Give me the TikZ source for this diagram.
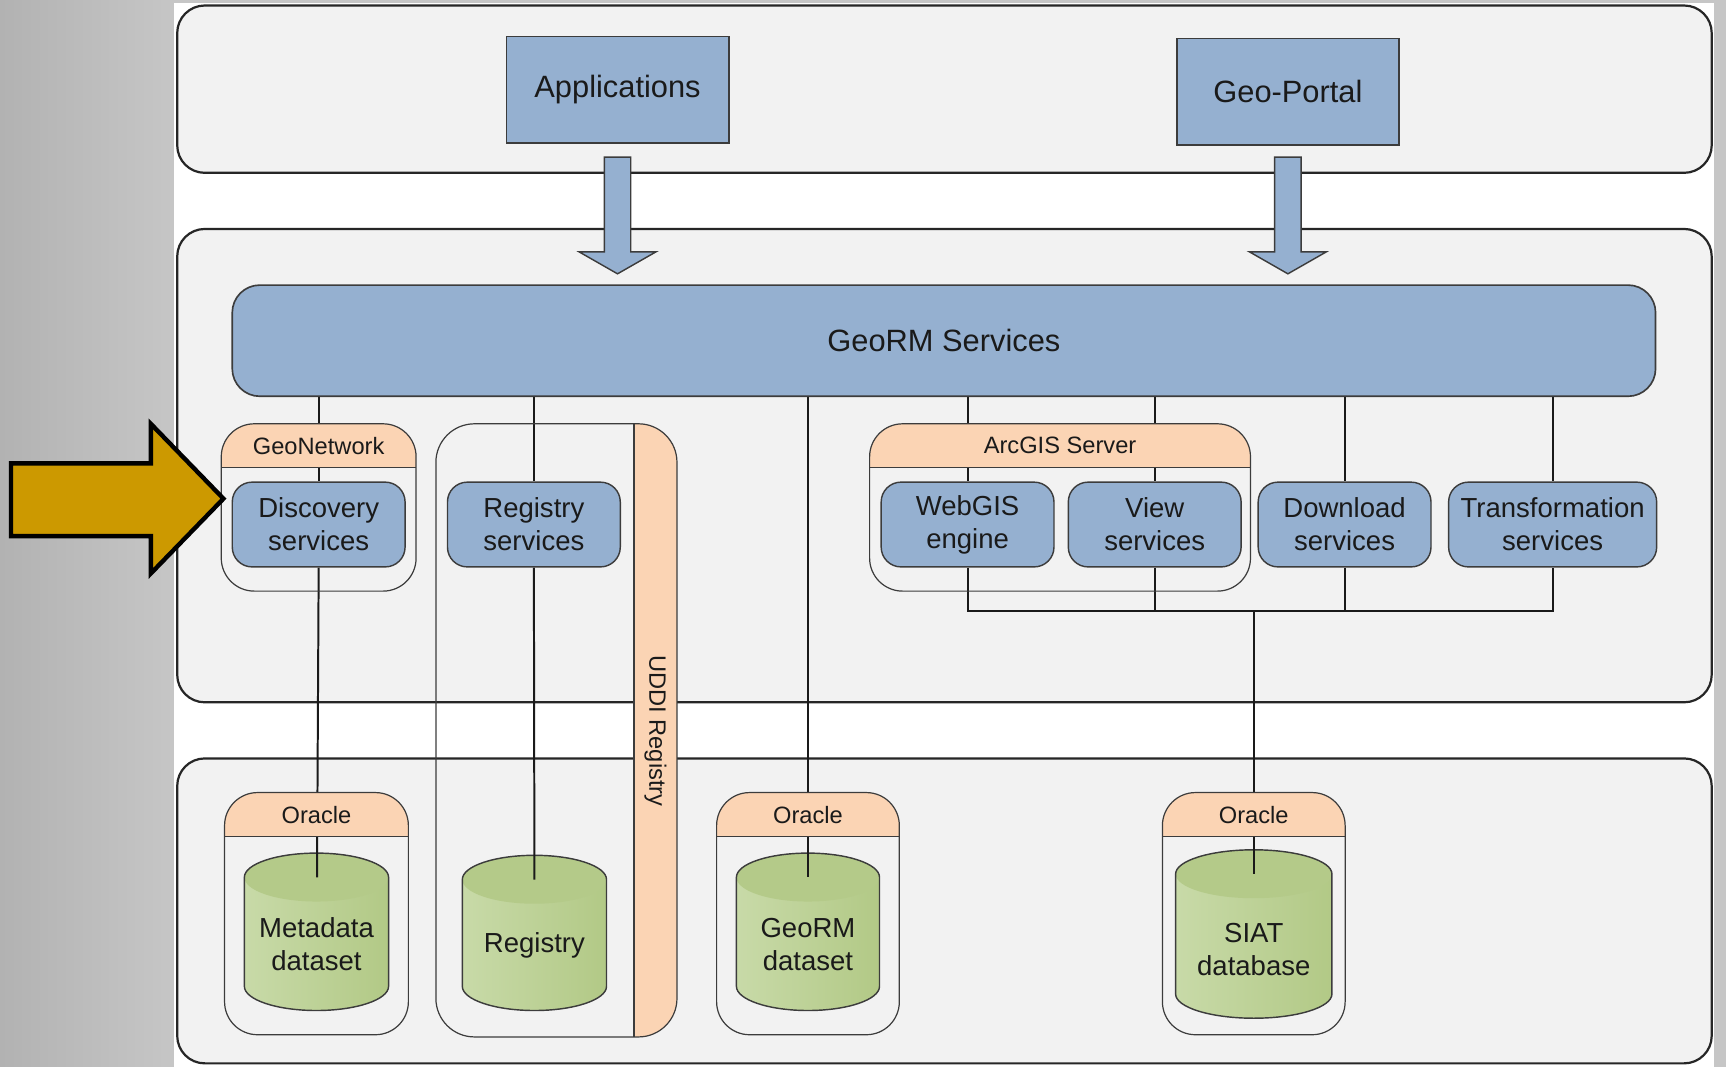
\documentclass[tikz,border=0pt]{standalone}
\usepackage{fontspec}
\setmainfont{Liberation Sans}
\usetikzlibrary{calc}
\definecolor{panelF}{HTML}{F2F2F2}
\definecolor{lineC}{HTML}{262626}
\definecolor{boxLine}{HTML}{3C3C3C}
\definecolor{blueF}{HTML}{95B0D0}
\definecolor{peach}{HTML}{FBD4B4}
\definecolor{cylL}{HTML}{C8DAA8}
\definecolor{cylR}{HTML}{B2C986}
\definecolor{cylTop}{HTML}{B4CA89}
\definecolor{gold}{HTML}{CC9900}
\definecolor{txt}{HTML}{1A1A1A}
\definecolor{grayL}{HTML}{B2B2B2}
\definecolor{grayR}{HTML}{C6C6C6}
\newcommand\fbig{\fontsize{28}{32}\selectfont}
\newcommand\fmed{\fontsize{25}{30}\selectfont}
\newcommand\fsml{\fontsize{21.5}{25}\selectfont}
\tikzset{
  x=1pt, y=1pt,
  panel/.style={draw=lineC, fill=panelF, line width=2pt, rounded corners=25pt},
  appbox/.style={draw=boxLine, fill=blueF, line width=1.5pt, minimum width=202pt, minimum height=97pt, font=\fbig, text=txt, inner sep=0pt},
  georm/.style={draw=boxLine, fill=blueF, line width=1.5pt, rounded corners=25pt, minimum width=1293pt, minimum height=101pt, font=\fbig, text=txt, inner sep=0pt},
  svc/.style={draw=boxLine, fill=blueF, line width=1.3pt, rounded corners=18pt, minimum width=157pt, minimum height=77pt, font=\fmed, text=txt, align=center, inner sep=0pt},
  cbox/.style={draw=boxLine, line width=1.1pt},
  hdr/.style={font=\fsml, text=txt, inner sep=0pt},
  dbtext/.style={font=\fmed, text=txt, align=center, inner sep=0pt},
  conn/.style={draw=txt, line width=1.8pt},
  blockarrow/.style={draw=boxLine, fill=blueF, line width=1.3pt, line join=miter},
}
\newcommand\hdrbox[5]{%
  \begin{scope}
    \clip[rounded corners=30pt] (#1,-#2) rectangle (#3,-#4);
    \fill[peach] (#1,-#2) rectangle (#3,-#5);
  \end{scope}
  \draw[cbox] (#1,-#5) -- (#3,-#5);
  \draw[cbox, rounded corners=30pt] (#1,-#2) rectangle (#3,-#4);}
\newcommand\dbcyl[4]{%
  \fill[left color=cylL, right color=cylR] (#1-#4,-#2-22) -- (#1-#4,-#3+22)
     arc[start angle=180, end angle=360, x radius=#4, y radius=22] -- (#1+#4,-#2-22)
     arc[start angle=0, end angle=180, x radius=#4, y radius=22] -- cycle;
  \fill[cylTop] (#1,-#2-22) ellipse[x radius=#4, y radius=22];
  \draw[cbox, line width=1.3pt] (#1-#4,-#2-22) -- (#1-#4,-#3+22)
     arc[start angle=180, end angle=360, x radius=#4, y radius=22] -- (#1+#4,-#2-22)
     arc[start angle=0, end angle=180, x radius=#4, y radius=22] -- cycle;}
\begin{document}
\begin{tikzpicture}
\useasboundingbox (0,0) rectangle (1568,-969);
% background
\fill[grayR] (0,0) rectangle (1568,-969);
\shade[left color=grayL, right color=grayR] (0,0) rectangle (158,-969);
\fill[white] (158,-3) rectangle (1557,-969);
% panels
\draw[panel] (161,-5) rectangle (1555,-157);
\draw[panel] (161,-208) rectangle (1555,-638);
\draw[panel] (161,-689) rectangle (1555,-966);
% cylinders
\dbcyl{287.5}{775}{918}{65.5}
\dbcyl{485.5}{777}{918}{65.5}
\dbcyl{734}{775}{918}{65}
\dbcyl{1139}{772}{925}{71}
\coordinate (metatop) at (288,-797);
\coordinate (regtop) at (485.5,-799);
\coordinate (geotop) at (734,-797);
\coordinate (siattop) at (1139,-794);
\node[dbtext] (meta) at (287.5,-858) {Metadata\\dataset};
\node[dbtext] (reg) at (485.5,-859) {Registry};
\node[dbtext] (geods) at (734,-858) {GeoRM\\dataset};
\node[dbtext] (siat) at (1139,-863) {SIAT\\database};
% main boxes (placed first for naming)
\node[appbox] (app) at (561,-81.5) {Applications};
\node[appbox] (portal) at (1170,-83.5) {Geo-Portal};
\path (857.5,-309.5) node[georm, draw=none, fill=none, text opacity=0] (georm) {GeoRM Services};
\path (289.5,-476.5) node[svc, draw=none, fill=none, text opacity=0] (disc) {Discovery\\services};
\path (485,-476.5) node[svc, draw=none, fill=none, text opacity=0] (regsvc) {Registry\\services};
\path (879,-476.5) node[svc, draw=none, fill=none, text opacity=0] (webgis) {WebGIS\\engine};
\path (1049,-476.5) node[svc, draw=none, fill=none, text opacity=0] (view) {View\\services};
\path (1221.5,-476.5) node[svc, draw=none, fill=none, text opacity=0] (dl) {Download\\services};
\path (1410.5,-476.5) node[svc, minimum width=189pt, draw=none, fill=none, text opacity=0] (trans) {Transformation\\services};
% connectors
\coordinate (busL) at (879,-555);
\draw[conn] (disc.north |- georm.south) -- (disc.north);
\draw[conn] (regsvc.north |- georm.south) -- (regsvc.north);
\draw[conn] (webgis.north |- georm.south) -- (webgis.north);
\draw[conn] (view.north |- georm.south) -- (view.north);
\draw[conn] (dl.north |- georm.south) -- (dl.north);
\draw[conn] (trans.north |- georm.south) -- (trans.north);
\draw[conn] (geotop |- georm.south) -- (geotop);
\draw[conn] (disc.south) -- (metatop);
\draw[conn] (regsvc.south) -- (regtop);
\draw[conn] (webgis.south) -- (busL) -- (busL -| trans.south) -- (trans.south);
\draw[conn] (view.south) -- (view.south |- busL);
\draw[conn] (dl.south) -- (dl.south |- busL);
\draw[conn] (siattop |- busL) -- (siattop);
% containers (headers cover connectors)
\hdrbox{201}{385}{378}{537}{425}
\hdrbox{790}{385}{1136}{537}{425}
\hdrbox{204}{720}{371}{940}{760}
\hdrbox{651}{720}{817}{940}{760}
\hdrbox{1056}{720}{1222}{940}{760}
% UDDI container
\begin{scope}
  \clip[rounded corners=35pt] (396,-385) rectangle (615,-942);
  \fill[peach] (576,-385) rectangle (615,-942);
\end{scope}
\draw[cbox] (576,-385) -- (576,-942);
\draw[cbox, rounded corners=35pt] (396,-385) rectangle (615,-942);
\node[hdr, rotate=-90] (uddi) at (595.5,-664) {UDDI Registry};
% header labels
\node[hdr] (geonet) at (289.5,-405) {GeoNetwork};
\node[hdr] (arcgis) at (963,-405) {ArcGIS Server};
\node[hdr] (ora1) at (287.5,-740) {Oracle};
\node[hdr] (ora2) at (734,-740) {Oracle};
\node[hdr] (ora3) at (1139,-740) {Oracle};
% visible boxes over connectors
\node[georm] at (georm) {GeoRM Services};
\node[svc] at (disc) {Discovery\\services};
\node[svc] at (regsvc) {Registry\\services};
\node[svc] at (webgis) {WebGIS\\engine};
\node[svc] at (view) {View\\services};
\node[svc] at (dl) {Download\\services};
\node[svc, minimum width=189pt] at (trans) {Transformation\\services};
% block arrows
\draw[blockarrow] ($(app.south)+(-12,-12)$) -- ($(app.south)+(12,-12)$) -- ($(app.south)+(12,-98)$)
  -- ($(app.south)+(35,-98)$) -- ($(app.south)+(0,-118)$) -- ($(app.south)+(-35,-98)$)
  -- ($(app.south)+(-12,-98)$) -- cycle;
\draw[blockarrow] ($(portal.south)+(-12,-10)$) -- ($(portal.south)+(12,-10)$) -- ($(portal.south)+(12,-96)$)
  -- ($(portal.south)+(35,-96)$) -- ($(portal.south)+(0,-116)$) -- ($(portal.south)+(-35,-96)$)
  -- ($(portal.south)+(-12,-96)$) -- cycle;
% yellow pointer arrow
\draw[fill=gold, draw=black, line width=4pt, line join=miter]
  (10,-421) -- (137,-421) -- (137,-385) -- (203,-453) -- (137,-521) -- (137,-487) -- (10,-487) -- cycle;
\end{tikzpicture}
\end{document}
